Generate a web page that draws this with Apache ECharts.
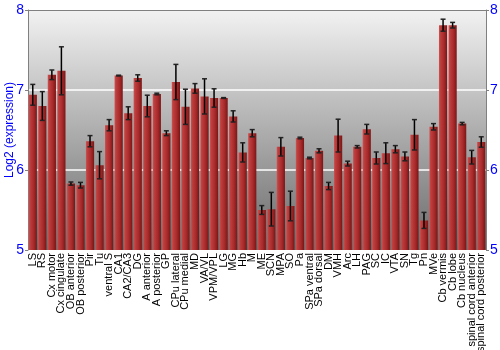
<!DOCTYPE html>
<html><head><meta charset="utf-8">
<script src="https://cdn.jsdelivr.net/npm/echarts@6/dist/echarts.min.js"></script>
<style>html,body{margin:0;padding:0;background:#fff}#c{width:500px;height:350px}</style>
</head><body><div id="c"></div>
<script>
var categories = ["LS","RS","Cx motor","Cx cingulate","OB anterior","OB posterior","Pir","Tu","ventral S","CA1","CA2/CA3","DG","A anterior","A posterior","GP","CPu lateral","CPu medial","MD","VA/VL","VPM/VPL","LG","MG","Hb","M","ME","SCN","MPA","SO","Pa","SPa ventral","SPa dorsal","DM","VMH","Arc","LH","PAG","SC","IC","VTA","SN","Tg","Pn","MVe","Cb vermis","Cb lobe","Cb nucleus","spinal cord anterior","spinal cord posterior"];
var values = [6.94,6.80,7.19,7.24,5.83,5.81,6.36,6.06,6.56,7.18,6.71,7.15,6.80,6.95,6.46,7.10,6.79,7.02,6.92,6.90,6.90,6.67,6.22,6.46,5.50,5.51,6.29,5.55,6.40,6.15,6.24,5.80,6.43,6.08,6.29,6.51,6.15,6.21,6.26,6.17,6.44,5.37,6.54,7.81,7.81,6.58,6.16,6.35];
var errors = [0.13,0.18,0.06,0.30,0.02,0.035,0.07,0.17,0.07,0.005,0.08,0.04,0.135,0.01,0.03,0.22,0.22,0.06,0.22,0.115,0.005,0.07,0.12,0.045,0.055,0.21,0.115,0.185,0.01,0.01,0.025,0.045,0.205,0.03,0.015,0.06,0.075,0.13,0.045,0.055,0.19,0.10,0.04,0.075,0.035,0.015,0.085,0.065];
var yTicks = [5,6,7,8];

var chart = echarts.init(document.getElementById('c'), null, {renderer:'canvas'});
var errData = values.map(function(v,i){return [i, v-errors[i], v+errors[i]];});
var blue = '#0000ff';
var barGrad = new echarts.graphic.LinearGradient(0,0,1,0,[
  {offset:0,color:'#cf5555'},{offset:0.15,color:'#c04040'},{offset:0.6,color:'#a82a2a'},{offset:1,color:'#7a1616'}]);
chart.setOption({
  animation:false,
  grid:{left:28,right:14,top:10,bottom:100,show:true,borderWidth:0,containLabel:false,outerBoundsMode:'none',
    backgroundColor:new echarts.graphic.LinearGradient(0,0,0,1,[{offset:0,color:'#f2f2f2'},{offset:1,color:'#6a6a6a'}])},
  xAxis:{type:'category',data:categories,boundaryGap:true,
    axisLine:{show:false},axisTick:{show:false},
    axisLabel:{interval:0,rotate:90,fontSize:11,color:'#000',fontFamily:'Liberation Sans, Arial, sans-serif',margin:3}},
  yAxis:[{type:'value',min:yTicks[0],max:yTicks[yTicks.length-1],interval:1,position:'left',
    name:'Log2 (expression)',nameLocation:'middle',nameGap:12,nameRotate:90,nameMoveOverlap:false,
    nameTextStyle:{color:blue,fontSize:12,fontFamily:'Liberation Sans, Arial, sans-serif'},
    axisLine:{show:true,lineStyle:{color:'#808080',width:1}},
    axisTick:{show:true,length:3,lineStyle:{color:'#808080'}},
    axisLabel:{color:blue,fontSize:14,margin:4,fontFamily:'Liberation Sans, Arial, sans-serif'},
    splitLine:{show:true,showMinLine:false,showMaxLine:false,lineStyle:{color:'#ffffff',width:1.5}}},
   {type:'value',min:yTicks[0],max:yTicks[yTicks.length-1],interval:1,position:'right',
    axisLine:{show:true,lineStyle:{color:'#808080',width:1}},
    axisTick:{show:true,length:3,lineStyle:{color:'#808080'}},
    axisLabel:{color:blue,fontSize:14,margin:4,fontFamily:'Liberation Sans, Arial, sans-serif'},
    splitLine:{show:false}}],
  graphic:[],
  series:[
    {type:'bar',data:values,barWidth:'86%',itemStyle:{color:barGrad}},
    {type:'custom',data:errData,z:5,
     renderItem:function(params,api){
       var x=api.value(0);var lo=api.coord([x,api.value(1)]);var hi=api.coord([x,api.value(2)]);
       var hw=2.5;
       return {type:'group',children:[
         {type:'line',shape:{x1:lo[0],y1:lo[1],x2:hi[0],y2:hi[1]},style:{stroke:'#000',lineWidth:1.5}},
         {type:'line',shape:{x1:lo[0]-hw,y1:lo[1],x2:lo[0]+hw,y2:lo[1]},style:{stroke:'#222',lineWidth:1.5}},
         {type:'line',shape:{x1:hi[0]-hw,y1:hi[1],x2:hi[0]+hw,y2:hi[1]},style:{stroke:'#222',lineWidth:1.5}}
       ]};
     }}
  ]
});
var tl = chart.convertToPixel({xAxisIndex:0,yAxisIndex:0},[0,yTicks[yTicks.length-1]]);
chart.setOption({graphic:[{type:'line',z:10,shape:{x1:28,y1:Math.round(tl[1])+0.5,x2:486,y2:Math.round(tl[1])+0.5},style:{stroke:'#808080',lineWidth:1}}]});
</script></body></html>
